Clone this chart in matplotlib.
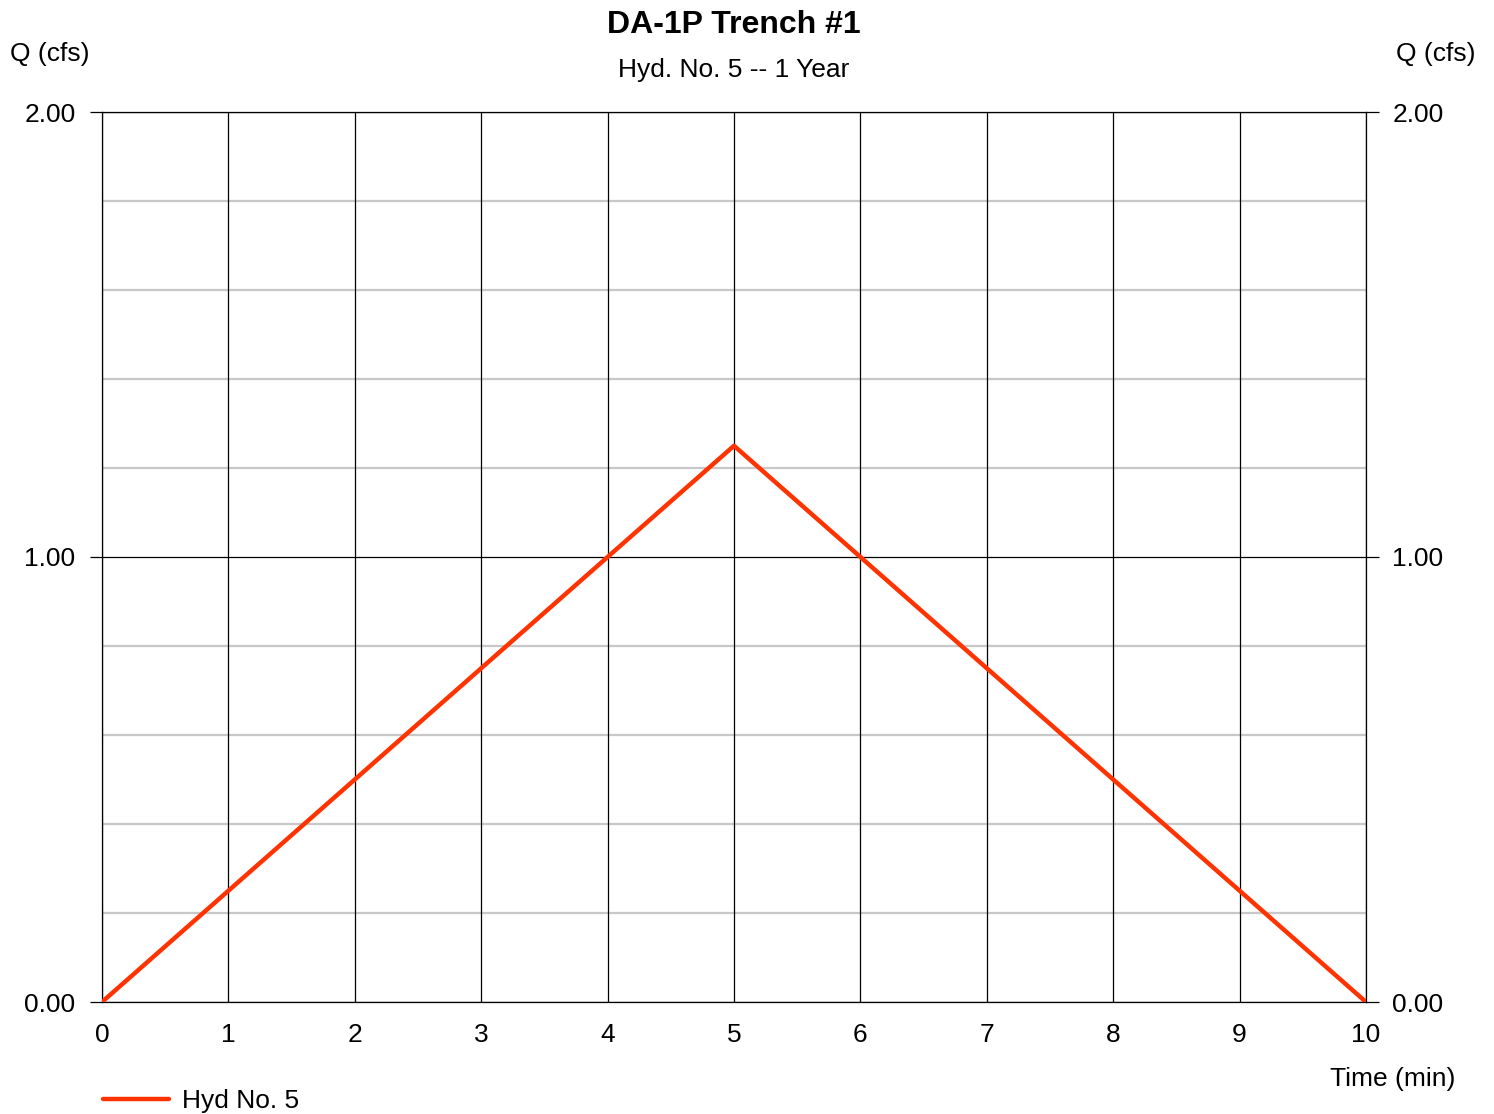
import matplotlib; matplotlib.use("Agg")
import matplotlib.pyplot as plt
import numpy as np

# hydrograph data
time_min = [0, 1, 2, 3, 4, 5, 6, 7, 8, 9, 10]
q_cfs = [0.0, 0.25, 0.50, 0.75, 1.00, 1.25, 1.00, 0.75, 0.50, 0.25, 0.0]
y_major = [0.0, 1.0, 2.0]
y_minor = [0.2, 0.4, 0.6, 0.8, 1.2, 1.4, 1.6, 1.8]

plt.rcParams["font.family"] = ["Liberation Sans", "DejaVu Sans"]
RED = "#ff3300"
FS = 19

fig = plt.figure(figsize=(14.94, 11.14), dpi=100)
ax = fig.add_axes([102/1494, 1 - 1002/1114, (1366-102)/1494, (1002-112)/1114])

for y in y_minor:
    ax.axhline(y, color="#c8c8c8", lw=1.6, zorder=1)
for y in y_major:
    ax.axhline(y, color="black", lw=0.9, zorder=2)
for x in time_min:
    ax.axvline(x, color="black", lw=0.9, zorder=2)

ax.plot(time_min, q_cfs, color=RED, lw=3.2, solid_capstyle="round", zorder=3, label="Hyd No. 5")

ax.set_xlim(0, 10); ax.set_ylim(0, 2)
ax.set_xticks(time_min)
ax.set_yticks(y_major)
ax.set_yticklabels([f"{v:.2f}" for v in y_major])
for s in ax.spines.values():
    s.set_linewidth(0.9)
ax.tick_params(axis="x", length=0, pad=15, labelsize=FS)
ax.tick_params(axis="y", length=9, width=0.9, pad=10, labelsize=FS,
               right=True, labelright=True)

fig.text(734/1494, 1 - 25/1114, "DA-1P Trench #1", ha="center", va="center",
         fontsize=23, fontweight="bold")
fig.text(734/1494, 1 - 70/1114, "Hyd. No. 5 -- 1 Year", ha="center", va="center", fontsize=FS)
fig.text(10/1494, 1 - 54/1114, "Q (cfs)", ha="left", va="center", fontsize=FS)
fig.text(1476/1494, 1 - 54/1114, "Q (cfs)", ha="right", va="center", fontsize=FS)
fig.text(1455/1494, 1 - 1079/1114, "Time (min)", ha="right", va="center", fontsize=FS)

fig.legend(loc="center left", bbox_to_anchor=(92/1494, 1 - 1101/1114), frameon=False,
           fontsize=FS, handlelength=2.5, handletextpad=0.5, borderaxespad=0)

fig.savefig("out.png", dpi=100)
